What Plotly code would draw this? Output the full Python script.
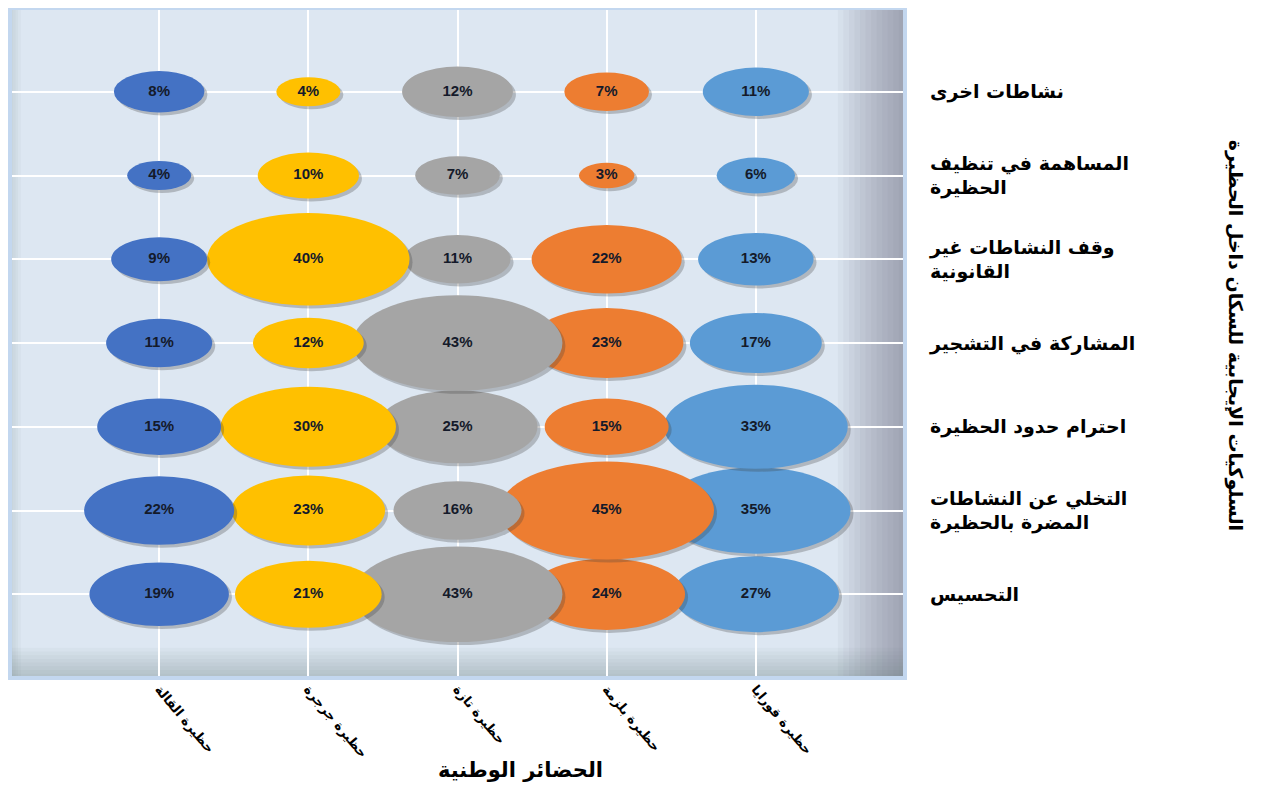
import numpy as np
import plotly.graph_objects as go

# national parks (x axis)
parks = ["حظيرة القالة", "حظيرة جرجرة", "حظيرة تازة", "حظيرة بلزمة", "حظيرة قورايا"]

# positive behaviours (y axis, bottom to top)
behaviours = [
    "التحسيس",
    "التخلي عن النشاطات<br>المضرة بالحظيرة",
    "احترام حدود الحظيرة",
    "المشاركة في التشجير",
    "وقف النشاطات غير<br>القانونية",
    "المساهمة في تنظيف<br>الحظيرة",
    "نشاطات اخرى",
]

# percentages per park, same order as behaviours
el_kala = [19, 22, 15, 11, 9, 4, 8]
djurdjura = [21, 23, 30, 12, 40, 10, 4]
taza = [43, 16, 25, 43, 11, 7, 12]
belezma = [24, 45, 15, 23, 22, 3, 7]
gouraya = [27, 35, 33, 17, 13, 6, 11]

series = [el_kala, djurdjura, taza, belezma, gouraya]
colors = ["#4472C4", "#FFC000", "#A5A5A5", "#ED7D31", "#5B9BD5"]

# plot geometry used to size the ellipses (px per axis unit)
px_x = 895 / 6
px_y = 670 / 8

fig = go.Figure()

shapes = []

# background shading towards the right and bottom edges of the plot area
for i in range(12):
    shapes.append(dict(type="rect", xref="x domain", yref="y domain",
                       x0=0.925 + 0.0062 * i, x1=1, y0=0, y1=1,
                       fillcolor="rgba(95,105,120,0.05)", line_width=0, layer="below"))
for i in range(8):
    shapes.append(dict(type="rect", xref="x domain", yref="y domain",
                       x0=0, x1=1, y0=0, y1=0.045 - 0.0055 * i,
                       fillcolor="rgba(95,105,120,0.045)", line_width=0, layer="below"))
for i in range(4):
    shapes.append(dict(type="rect", xref="x domain", yref="y domain",
                       x0=0, x1=0.012 - 0.003 * i, y0=0, y1=1,
                       fillcolor="rgba(95,105,120,0.045)", line_width=0, layer="below"))

# bubbles: excel draws the last park first, so go in reverse
for k in range(len(parks) - 1, -1, -1):
    xk = k + 1
    for j, v in enumerate(series[k]):
        yj = j + 1
        rx = 16 * np.sqrt(v) / px_x
        ry = 7.3 * np.sqrt(v) / px_y
        # drop shadow
        shapes.append(dict(type="circle", xref="x", yref="y",
                           x0=xk - rx + 3 / px_x, x1=xk + rx + 3 / px_x,
                           y0=yj - ry - 3 / px_y, y1=yj + ry - 3 / px_y,
                           fillcolor="rgba(60,60,60,0.28)", line_width=0, layer="between"))
        shapes.append(dict(type="circle", xref="x", yref="y",
                           x0=xk - rx, x1=xk + rx, y0=yj - ry, y1=yj + ry,
                           fillcolor=colors[k], line_width=0, layer="between"))

# frame around the plot area
shapes.append(dict(type="rect", xref="x domain", yref="y domain",
                   x0=0, x1=1, y0=0, y1=1,
                   line=dict(color="#c3d7ef", width=4), fillcolor="rgba(0,0,0,0)"))

xs, ys, labels = [], [], []
for k in range(len(parks)):
    for j, v in enumerate(series[k]):
        xs.append(k + 1)
        ys.append(j + 1)
        labels.append(f"{v}%")

fig.add_trace(go.Scatter(
    x=xs, y=ys, mode="text", text=labels,
    textfont=dict(family="Liberation Sans", size=15, color="#141a2a", weight="bold"),
    hoverinfo="skip", showlegend=False,
))

# the page body adds an 8px margin, so the figure is drawn 8px smaller
fig.update_layout(
    width=1258, height=777,
    margin=dict(l=2, r=361, t=0, b=107),
    paper_bgcolor="white",
    plot_bgcolor="#dde7f2",
    shapes=shapes,
    showlegend=False,
    xaxis=dict(
        range=[0, 6], tickvals=[1, 2, 3, 4, 5], ticktext=parks,
        tickangle=50, showgrid=True, gridcolor="white", gridwidth=1.5,
        zeroline=False, showline=False, ticks="",
        ticklabelstandoff=0,
        tickfont=dict(family="DejaVu Sans", size=13, color="black", weight="bold"),
    ),
    yaxis=dict(
        range=[0, 8], tickvals=list(range(1, 8)), ticktext=behaviours,
        side="right", showgrid=True, gridcolor="white", gridwidth=1.5,
        zeroline=False, showline=False, ticks="",
        ticklabelstandoff=24,
        tickfont=dict(family="DejaVu Sans", size=19, color="black", weight="bold"),
    ),
    annotations=[
        dict(text="الحضائر الوطنية", xref="paper", yref="paper",
             x=0.57, y=-0.137, showarrow=False, xanchor="center", yanchor="middle",
             font=dict(family="DejaVu Sans", size=21, color="black", weight="bold")),
        dict(text="السلوكيات الإيجابية للسكان داخل الحظيرة", xref="paper", yref="paper",
             x=1.369, y=0.512, showarrow=False, textangle=90,
             xanchor="center", yanchor="middle",
             font=dict(family="DejaVu Sans", size=19, color="black", weight="bold")),
    ],
)

fig.write_html("out.html")
